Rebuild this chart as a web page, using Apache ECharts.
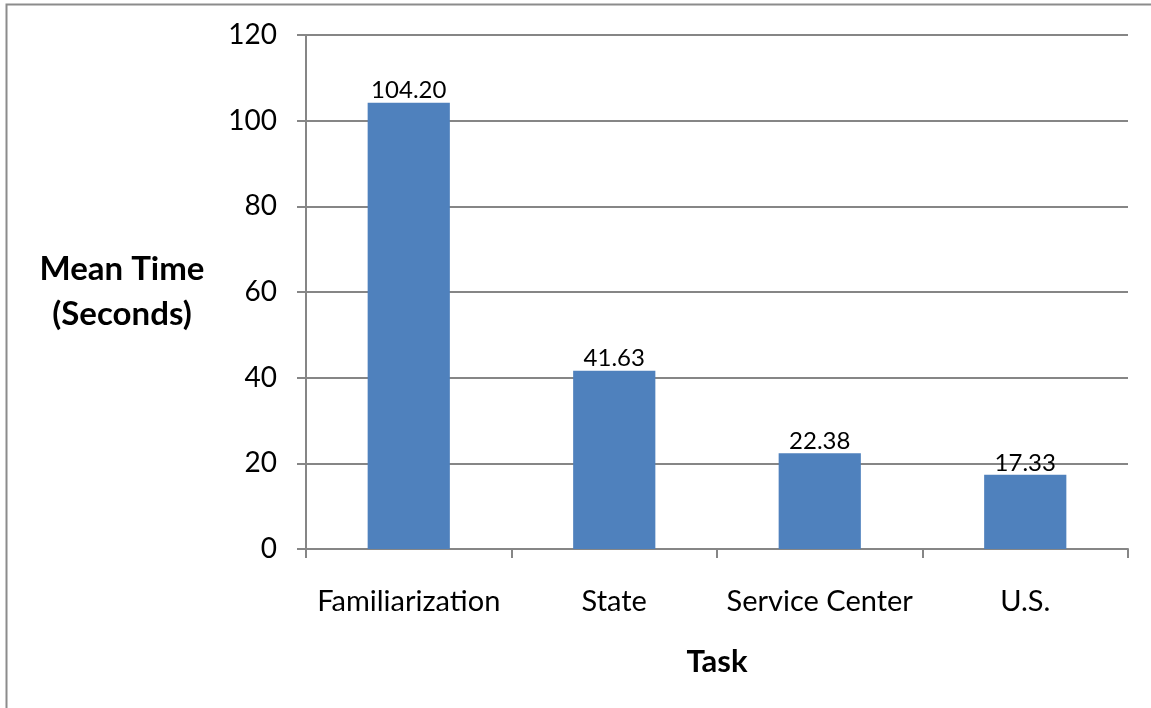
<!DOCTYPE html>
<html>
<head>
<meta charset="utf-8">
<script src="https://cdn.jsdelivr.net/npm/echarts@6/dist/echarts.min.js"></script>
<style>
  html, body { margin: 0; padding: 0; background: #fff; }
  #chart { width: 1151px; height: 708px; }
</style>
</head>
<body>
<div id="chart"></div>
<script>
// Mean completion time per task
const tasks = ['Familiarization', 'State', 'Service Center', 'U.S.'];
const meanSeconds = [104.20, 41.63, 22.38, 17.33];
const yTicks = { min: 0, max: 120, interval: 20 };

const FONT = 'Lato, "Liberation Sans", sans-serif';
const GRID_GRAY = '#868686';

const chart = echarts.init(document.getElementById('chart'));
chart.setOption({
  animation: false,
  backgroundColor: '#ffffff',
  textStyle: { fontFamily: FONT },
  graphic: [{
    type: 'rect',
    shape: { x: 6.5, y: 4.5, width: 1300, height: 900 },
    style: { fill: 'none', stroke: '#8c8c8c', lineWidth: 2 },
    silent: true
  }],
  grid: { left: 306, right: 23, top: 35, bottom: 159 },
  xAxis: {
    type: 'category',
    data: tasks,
    name: 'Task',
    nameLocation: 'middle',
    nameGap: 97,
    nameTextStyle: { fontFamily: FONT, fontWeight: 'bold', fontSize: 31, color: '#000' },
    axisLine: { lineStyle: { color: GRID_GRAY, width: 2 } },
    axisTick: { show: true, interval: 0, length: 9, lineStyle: { color: GRID_GRAY, width: 2 } },
    axisLabel: { interval: 0, fontFamily: FONT, fontSize: 29, color: '#000', margin: 38 }
  },
  yAxis: {
    type: 'value',
    min: yTicks.min,
    max: yTicks.max,
    interval: yTicks.interval,
    name: 'Mean Time\n(Seconds)',
    nameLocation: 'middle',
    nameRotate: 0,
    nameGap: 184,
    nameTextStyle: {
      fontFamily: FONT, fontWeight: 'bold', fontSize: 33, color: '#000',
      align: 'center', verticalAlign: 'middle', lineHeight: 45, padding: [16, 0, 0, 0]
    },
    axisLine: { show: true, lineStyle: { color: GRID_GRAY, width: 2 } },
    axisTick: { show: true, length: 9, lineStyle: { color: GRID_GRAY, width: 2 } },
    axisLabel: { fontFamily: FONT, fontSize: 28, color: '#000', margin: 29 },
    splitLine: { show: true, lineStyle: { color: GRID_GRAY, width: 2 } }
  },
  series: [{
    type: 'bar',
    data: meanSeconds,
    barWidth: '40%',
    itemStyle: { color: '#4F81BD' },
    label: {
      show: true,
      position: 'top',
      distance: 0,
      fontFamily: FONT,
      fontSize: 24,
      color: '#000',
      formatter: p => p.value.toFixed(2)
    }
  }]
});
</script>
</body>
</html>
